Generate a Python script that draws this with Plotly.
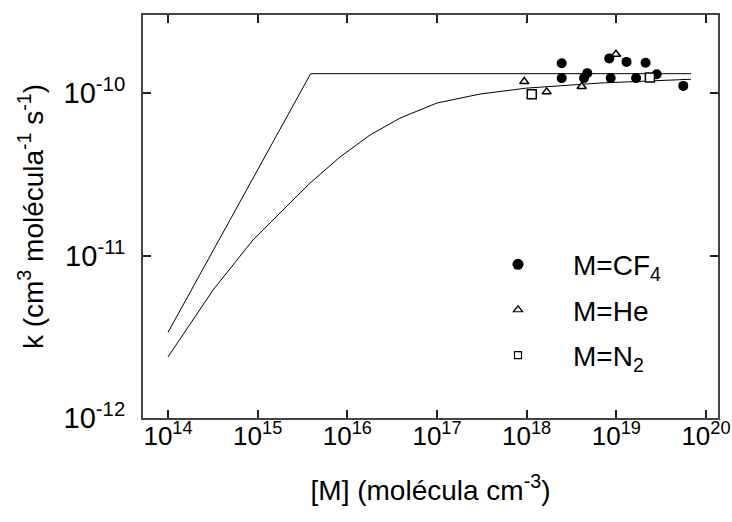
import plotly.graph_objects as go

# Curves (log-log)
upper_x = [1e14, 3.9e15, 6.8e19]
upper_y = [3.37e-12, 1.32e-10, 1.32e-10]

lower_x = [1e14, 3.18e14, 8.87e14, 3.84e15, 8.28e15, 1.79e16, 3.86e16, 1e17, 3.02e17, 1e18, 6.6e18, 6.8e19]
lower_y = [2.38e-12, 6.14e-12, 1.25e-11, 2.80e-11, 4.05e-11, 5.53e-11, 7.03e-11, 8.71e-11, 9.89e-11, 1.076e-10, 1.156e-10, 1.22e-10]

# Measurements
cf4_x = [2.46e18, 2.46e18, 4.74e18, 4.36e18, 8.34e18, 1.30e19, 8.65e18, 2.12e19, 1.66e19, 2.82e19, 5.58e19]
cf4_y = [1.53e-10, 1.24e-10, 1.33e-10, 1.24e-10, 1.64e-10, 1.56e-10, 1.24e-10, 1.54e-10, 1.24e-10, 1.31e-10, 1.11e-10]

he_x = [9.4e17, 1.67e18, 4.11e18, 9.9e18]
he_y = [1.18e-10, 1.02e-10, 1.10e-10, 1.74e-10]

n2_x = [1.14e18, 2.37e19]
n2_y = [9.85e-11, 1.25e-10]

x_tickvals = [1e14, 1e15, 1e16, 1e17, 1e18, 1e19, 1e20]
x_ticktext = ["10<sup>14</sup>", "10<sup>15</sup>", "10<sup>16</sup>", "10<sup>17</sup>",
              "10<sup>18</sup>", "10<sup>19</sup>", "10<sup>20</sup>"]
y_tickvals = [1e-12, 1e-11, 1e-10]
y_ticktext = ["10<sup>-12</sup>", "10<sup>-11</sup>", "10<sup>-10</sup>"]

FONT = "Liberation Sans, Arial, sans-serif"

fig = go.Figure()
fig.add_trace(go.Scatter(x=upper_x, y=upper_y, mode="lines",
                         line=dict(color="black", width=1), showlegend=False))
fig.add_trace(go.Scatter(x=lower_x, y=lower_y, mode="lines",
                         line=dict(color="black", width=1), showlegend=False))
fig.add_trace(go.Scatter(x=cf4_x, y=cf4_y, mode="markers", showlegend=False,
                         marker=dict(symbol="circle", size=10, color="black")))
fig.add_trace(go.Scatter(x=he_x, y=he_y, mode="markers", showlegend=False,
                         marker=dict(symbol="triangle-up", size=8, color="white",
                                     line=dict(color="black", width=1.5))))
fig.add_trace(go.Scatter(x=n2_x, y=n2_y, mode="markers", showlegend=False,
                         marker=dict(symbol="square", size=9, color="white",
                                     line=dict(color="black", width=1.5))))

# legend-only entries
fig.add_trace(go.Scatter(x=[None], y=[None], mode="markers", name="M=CF<sub>4</sub>",
                         legendgroup="a",
                         marker=dict(symbol="circle", size=11, color="black")))
fig.add_trace(go.Scatter(x=[None], y=[None], mode="markers", name="M=He",
                         legendgroup="b",
                         marker=dict(symbol="triangle-up", size=8, color="white",
                                     line=dict(color="black", width=1.2))))
fig.add_trace(go.Scatter(x=[None], y=[None], mode="markers", name="M=N<sub>2</sub>",
                         legendgroup="c",
                         marker=dict(symbol="square", size=7, color="white",
                                     line=dict(color="black", width=1.2))))

axis_common = dict(
    type="log", showgrid=False, zeroline=False, automargin=False,
    showline=True, linecolor="#444", linewidth=2, mirror="allticks",
    ticks="inside", ticklen=8, tickwidth=2, tickcolor="#222",
    ticklabeloverflow="allow",
)

fig.update_layout(
    width=732, height=522,
    margin=dict(l=143, r=14, t=15, b=104),
    paper_bgcolor="white", plot_bgcolor="white",
    font=dict(family=FONT, size=28, color="black"),
    xaxis=dict(axis_common, range=[13.721, 20.134],
               tickvals=x_tickvals, ticktext=x_ticktext,
               ticklabelstandoff=-6,
               tickfont=dict(family=FONT, size=26, color="black"),
               title=dict(text="[M] (molécula cm<sup>-3</sup>)", standoff=30,
                          font=dict(family=FONT, size=28))),
    yaxis=dict(axis_common, range=[-12, -9.518],
               tickvals=y_tickvals, ticktext=y_ticktext,
               ticklabelstandoff=10,
               tickfont=dict(family=FONT, size=29, color="black"),
               title=dict(text="k (cm<sup>3</sup> molécula<sup>-1</sup> s<sup>-1</sup>)",
                          standoff=12, font=dict(family=FONT, size=28))),
    legend=dict(x=0.5565, y=0.4425, xanchor="left", yanchor="top",
                bgcolor="rgba(0,0,0,0)", borderwidth=0,
                itemwidth=100, tracegroupgap=6,
                font=dict(family=FONT, size=28, color="black")),
)

fig.write_html("out.html")
